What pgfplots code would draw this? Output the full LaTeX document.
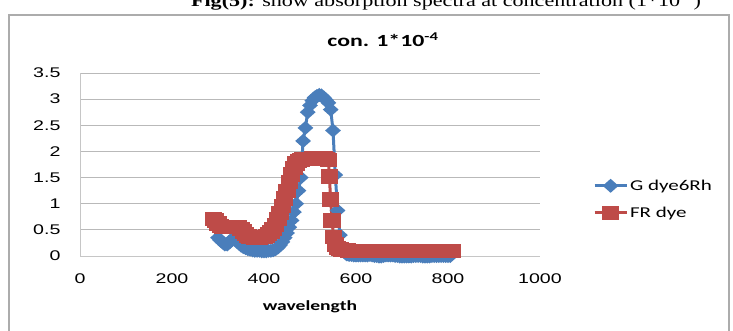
\documentclass[border=0pt]{standalone}
\usepackage{pgfplots}
\pgfplotsset{compat=1.18}
\usepackage{fontspec}
\setmainfont{Liberation Sans}[FakeStretch=1.4]
\newfontfamily\calib{Carlito}[FakeStretch=1.4]
\newfontfamily\tnr{Liberation Serif}[FakeStretch=1.3]
\definecolor{xblue}{HTML}{4A7EBB}
\definecolor{xred}{HTML}{BE4B48}
\begin{document}
\begin{tikzpicture}[x=1pt,y=1pt]
\useasboundingbox (0,0) rectangle (733,331);
\clip (0,0) rectangle (733,331);
\fill[white] (0,0) rectangle (733,331);
\node[anchor=base, inner sep=0pt] at (446,324) {\tnr\fontsize{17}{20}\selectfont\textbf{Fig(5):} show absorption spectra at concentration (1*10\textsuperscript{-4})};
\draw[gray!65, line width=2.2pt] (9,-10) rectangle (729,316);
\node[font=\calib\bfseries\fontsize{17}{20}\selectfont] at (383,291) {con. 1*10\textsuperscript{-4}};
\begin{axis}[
  at={(80pt,75pt)}, anchor=south west, scale only axis,
  width=460pt, height=183pt,
  xmin=0, xmax=1000, ymin=0, ymax=3.5,
  xtick={0,200,...,1000}, ytick={0,0.5,...,3.5},
  /pgf/number format/assume math mode=true,
  /pgf/number format/1000 sep={},
  ticklabel style={font=\fontsize{14}{16}\selectfont},
  xticklabel shift=14pt, yticklabel shift=16pt,
  axis x line*=bottom, axis y line*=left,
  axis line style={gray!45, line width=0.9pt, -}, tick style={draw=none},
  ymajorgrids, grid style={gray!55, line width=0.9pt},
  xlabel={\calib\bfseries\fontsize{14}{16}\selectfont wavelength},
  xlabel style={yshift=-10pt},
  legend style={at={(1.115,0.31)}, anchor=west, draw=none, fill=none,
    font=\calib\fontsize{15}{17}\selectfont, row sep=11pt, inner sep=0pt},
  legend cell align=left,
  legend image code/.code={\draw[mark repeat=2,mark phase=2] plot coordinates {(0pt,0pt)(16pt,0pt)(32pt,0pt)};},
  clip=false,
]
\addplot[xblue, line width=3pt, mark=diamond*, mark size=5pt, mark options={xscale=1.5}] coordinates {
(300,0.35)(305,0.30)(310,0.26)(315,0.22)(320,0.22)(325,0.26)(330,0.32)(335,0.35)(340,0.31)(345,0.25)
(350,0.20)(355,0.17)(360,0.15)(365,0.13)(370,0.12)(375,0.11)(380,0.10)(385,0.10)(390,0.10)(395,0.09)
(400,0.09)(405,0.09)(410,0.10)(415,0.10)(420,0.11)(425,0.13)(430,0.16)(435,0.21)(440,0.27)(445,0.35)
(450,0.44)(455,0.55)(460,0.68)(465,0.84)(470,1.00)(475,1.25)(480,1.50)(485,2.20)(490,2.45)(495,2.75)
(500,2.88)(505,2.97)(510,3.03)(515,3.06)(520,3.08)(525,3.07)(530,3.03)(535,2.98)(540,2.93)(545,2.80)
(550,2.40)(555,1.55)(560,0.87)(565,0.40)(570,0.15)(575,0.07)(580,0.03)(585,0.02)(590,0.02)(595,0.01)
(600,0.01)(605,0.01)(610,0.01)(615,0.01)(620,0.01)(625,0.01)(630,0.02)(635,0.01)(640,0.00)(645,0.00)
(650,-0.01)(655,-0.01)(660,0.00)(665,0.01)(670,0.01)(675,0.01)(680,0.01)(685,0.00)(690,0.00)(695,-0.01)
(700,-0.01)(705,-0.01)(710,-0.01)(715,-0.01)(720,-0.01)(725,0.00)(730,0.00)(735,0.00)(740,0.00)(745,-0.01)
(750,-0.01)(755,-0.01)(760,-0.01)(765,0.00)(770,0.00)(775,0.00)(780,0.00)(785,0.00)(790,0.00)(795,0.00)
(800,0.00)(805,0.00)
};
\addlegendentry{G dye6Rh}
\addplot[xred, line width=3pt, mark=square*, mark size=5.6pt, mark options={xscale=1.3}] coordinates {
(290,0.70)(295,0.68)(300,0.62)(305,0.58)(310,0.56)(315,0.55)(320,0.55)(325,0.55)(330,0.55)(335,0.56)
(340,0.56)(345,0.55)(350,0.52)(355,0.47)(360,0.42)(365,0.39)(370,0.37)(375,0.36)(380,0.35)(385,0.35)
(390,0.35)(395,0.36)(400,0.37)(405,0.39)(410,0.42)(415,0.46)(420,0.52)(425,0.60)(430,0.70)(435,0.82)
(440,0.96)(445,1.10)(450,1.25)(455,1.42)(460,1.56)(465,1.68)(470,1.77)(475,1.82)(480,1.84)(485,1.85)
(490,1.86)(495,1.86)(500,1.86)(505,1.87)(510,1.87)(515,1.87)(520,1.87)(525,1.87)(530,1.87)(535,1.86)
(540,1.84)(542,1.52)(545,1.08)(548,0.68)(551,0.37)(555,0.22)(560,0.16)(565,0.13)(570,0.12)(575,0.11)
(580,0.11)(585,0.10)(590,0.10)(595,0.10)(600,0.10)(605,0.10)(610,0.10)(615,0.10)(620,0.10)(625,0.10)
(630,0.10)(635,0.10)(640,0.10)(645,0.10)(650,0.10)(655,0.10)(660,0.10)(665,0.10)(670,0.10)(675,0.10)
(680,0.10)(685,0.10)(690,0.10)(695,0.10)(700,0.10)(705,0.10)(710,0.10)(715,0.10)(720,0.10)(725,0.10)
(730,0.10)(735,0.10)(740,0.10)(745,0.10)(750,0.10)(755,0.10)(760,0.10)(765,0.10)(770,0.10)(775,0.10)
(780,0.10)(785,0.10)(790,0.10)(795,0.10)(800,0.10)(805,0.10)(810,0.10)
};
\addlegendentry{FR dye}
\end{axis}
\end{tikzpicture}
\end{document}
